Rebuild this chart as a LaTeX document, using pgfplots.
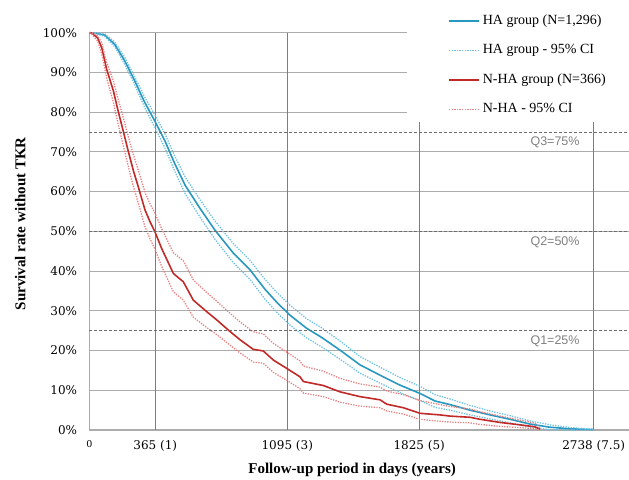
\documentclass[border=0pt]{standalone}
\usepackage{fontspec}
\setmainfont{Liberation Serif}
\newfontfamily\tickfont{DejaVu Serif}
\newfontfamily\qfont{Liberation Sans}
\usepackage{pgfplots}
\pgfplotsset{compat=1.18}

\definecolor{haBlue}{RGB}{40,152,192}
\definecolor{haCI}{RGB}{110,192,225}
\definecolor{nhaRed}{RGB}{192,42,40}
\definecolor{nhaCI}{RGB}{232,128,128}
\definecolor{gridgray}{RGB}{172,172,172}
\definecolor{vgray}{RGB}{125,125,125}
\definecolor{qgray}{RGB}{128,128,128}

\begin{document}
\begin{tikzpicture}
\begin{axis}[
    scale only axis,
    width=539.7bp, height=397.3bp,
    xmin=0, xmax=2985, ymin=0, ymax=100,
    clip=false,
    axis lines*=left,
    axis line style={draw=gridgray, line width=1.2bp},
    major tick length=0pt,
    /pgf/number format/assume math mode=true,
    ytick={0,10,...,100},
    yticklabel={\pgfmathprintnumber{\tick}\%},
    yticklabel style={font=\tickfont\fontsize{12bp}{14bp}\selectfont, anchor=east, inner sep=0pt, xshift=-12bp},
    xtick={0,365,1095,1825,2790},
    xticklabels={{\fontsize{9.5bp}{10bp}\selectfont 0},365 (1),1095 (3),1825 (5),2738 (7.5)},
    xticklabel style={font=\tickfont\fontsize{12bp}{14bp}\selectfont, anchor=north, inner sep=0pt, yshift=-10bp},
    ymajorgrids,
    major grid style={draw=gridgray, line width=1.1bp},
    xlabel={Follow-up period in days (years)},
    xlabel style={font=\bfseries\fontsize{15bp}{17bp}\selectfont, at={(rel axis cs:0.487,0)}, anchor=north, inner sep=0pt, yshift=-33bp},
    ylabel={Survival rate without TKR},
    ylabel style={font=\bfseries\fontsize{15bp}{17bp}\selectfont, at={(rel axis cs:0,0.519)}, anchor=center, inner sep=0pt, yshift=69bp},
    legend cell align=left,
    legend image code/.code={\draw[#1] (0bp,0bp) -- (30bp,0bp);},
    legend style={at={(axis cs:1984,100)}, anchor=north west, yshift=18bp, draw=none, fill=none, inner sep=0pt,
        row sep=17bp, column sep=3bp, font=\fontsize{14bp}{16bp}\selectfont,
        nodes={inner sep=0pt, text height=9.5bp, text depth=3bp}},
]
% vertical reference lines
\draw[vgray, line width=1bp] (axis cs:365,0) -- (axis cs:365,100);
\draw[vgray, line width=1bp] (axis cs:1095,0) -- (axis cs:1095,100);
\draw[vgray, line width=1bp] (axis cs:1825,0) -- (axis cs:1825,100);
\draw[vgray, line width=1bp] (axis cs:2790,0) -- (axis cs:2790,100);
% white box behind the legend
\fill[white] (axis cs:1757,77.5) rectangle (axis cs:2990,101);

% HA group
\addplot[haBlue, line width=1.6bp] coordinates {
(0,100) (30,99.9) (85,99.4) (140,97.1) (195,93.0) (250,88.0) (305,82.6) (362,77.8)
(420,72.6) (470,67.3) (530,61.6) (612,55.8) (695,50.3) (797,44.5) (889,40.3) (972,35.4)
(1040,32.0) (1110,28.9) (1202,25.6) (1285,23.3) (1387,20.1) (1497,16.4) (1608,13.8)
(1718,11.3) (1829,9.2) (1912,7.3) (1995,6.4) (2105,5.0) (2216,3.8) (2327,2.7)
(2437,1.5) (2548,0.7) (2659,0.3) (2790,0.1)
};
\addlegendentry{HA group (N=1,296)}
\addplot[haCI, line width=1.3bp, dash pattern=on 1.3bp off 1.3bp] coordinates {
(0,100) (30,100) (85,99.7) (140,97.7) (195,93.9) (250,89.0) (305,83.9) (362,79.4)
(420,74.4) (470,69.2) (530,63.7) (612,58.0) (695,52.6) (797,46.9) (889,42.7) (972,37.9)
(1040,34.5) (1110,31.4) (1202,28.0) (1285,25.7) (1387,22.4) (1497,18.5) (1608,15.8)
(1718,13.2) (1829,11.0) (1912,8.9) (1995,7.8) (2105,6.2) (2216,4.8) (2327,3.6)
(2437,2.3) (2548,1.3) (2659,0.6) (2790,0.2)
};
\addlegendentry{HA group - 95\% CI}
\addplot[haCI, line width=1.3bp, dash pattern=on 1.3bp off 1.3bp, forget plot] coordinates {
(0,100) (30,99.8) (85,99.1) (140,96.5) (195,92.1) (250,87.0) (305,81.3) (362,76.2)
(420,70.8) (470,65.4) (530,59.5) (612,53.6) (695,48.0) (797,42.1) (889,37.9) (972,32.9)
(1040,29.5) (1110,26.4) (1202,23.2) (1285,20.9) (1387,17.8) (1497,14.3) (1608,11.8)
(1718,9.4) (1829,7.4) (1912,5.7) (1995,5.0) (2105,3.8) (2216,2.8) (2327,1.8)
(2437,0.7) (2548,0.1) (2659,0.0) (2790,0.0)
};

% N-HA group
\addplot[nhaRed, line width=1.6bp] coordinates {
(0,100) (13,99.9) (46,98.7) (69,96.2) (96,90.8) (133,85.4) (160,80.2) (188,75.2)
(216,70.1) (243,65.4) (271,61.2) (308,55.4) (336,52.4) (363,49.9) (400,45.7) (465,39.4)
(520,37.3) (575,32.7) (649,29.8) (705,27.7) (778,24.8) (834,22.7) (907,20.3) (962,19.9)
(1018,17.6) (1092,15.5) (1165,13.4) (1184,12.2) (1294,11.2) (1387,9.6) (1497,8.4)
(1608,7.6) (1645,6.5) (1737,5.6) (1829,4.2) (1940,3.8) (1995,3.5) (2106,3.2) (2161,2.7)
(2272,1.9) (2382,1.3) (2465,0.8) (2493,0.2)
};
\addlegendentry{N-HA group (N=366)}
\addplot[nhaCI, line width=1.3bp, dash pattern=on 1.3bp off 1.3bp] coordinates {
(0,100) (13,100) (46,99.2) (69,97.4) (96,92.6) (133,87.9) (160,83.2) (188,78.6)
(216,73.8) (243,69.4) (271,65.4) (308,59.8) (336,56.9) (363,54.6) (400,50.7) (465,44.6)
(520,42.6) (575,37.8) (649,34.6) (705,32.4) (778,29.4) (834,27.2) (907,24.7) (962,24.2)
(1018,21.8) (1092,19.6) (1165,17.4) (1184,16.1) (1294,14.8) (1387,13.0) (1497,11.6)
(1608,10.8) (1645,9.8) (1737,8.9) (1829,7.4) (1940,6.4) (1995,5.9) (2106,5.3) (2161,4.6)
(2272,3.5) (2382,2.5) (2465,1.7) (2493,0.5)
};
\addlegendentry{N-HA - 95\% CI}
\addplot[nhaCI, line width=1.3bp, dash pattern=on 1.3bp off 1.3bp, forget plot] coordinates {
(0,100) (13,99.7) (46,97.9) (69,94.6) (96,88.6) (133,82.5) (160,76.9) (188,71.6)
(216,66.3) (243,61.4) (271,57.1) (308,51.2) (336,48.1) (363,45.5) (400,41.2) (465,34.8)
(520,32.7) (575,28.4) (649,25.8) (705,24.0) (778,21.4) (834,19.4) (907,17.1) (962,16.8)
(1018,14.5) (1092,12.5) (1165,10.4) (1184,9.3) (1294,8.4) (1387,7.0) (1497,6.0)
(1608,5.6) (1645,4.8) (1737,4.0) (1829,2.7) (1940,2.2) (1995,2.0) (2106,1.8) (2161,1.4)
(2272,0.9) (2382,0.6) (2465,0.3) (2493,0.1)
};

% quartile lines
\draw[qgray!85!black, line width=0.9bp, dash pattern=on 3bp off 2bp] (axis cs:0,75) -- (axis cs:2985,75);
\draw[qgray!85!black, line width=0.9bp, dash pattern=on 3bp off 2bp] (axis cs:0,50) -- (axis cs:2985,50);
\draw[qgray!85!black, line width=0.9bp, dash pattern=on 3bp off 2bp] (axis cs:0,25) -- (axis cs:2985,25);
\node[font=\qfont\fontsize{12.5bp}{14bp}\selectfont, text=qgray, yshift=-10.5bp] at (axis cs:2576,75) {Q3=75\%};
\node[font=\qfont\fontsize{12.5bp}{14bp}\selectfont, text=qgray, yshift=-10.5bp] at (axis cs:2576,50) {Q2=50\%};
\node[font=\qfont\fontsize{12.5bp}{14bp}\selectfont, text=qgray, yshift=-10.5bp] at (axis cs:2576,25) {Q1=25\%};
\end{axis}
\pgfresetboundingbox
\useasboundingbox (current axis.south west) ++(-89.3bp,-50bp) rectangle ++(629bp,480bp);
\end{tikzpicture}
\end{document}
